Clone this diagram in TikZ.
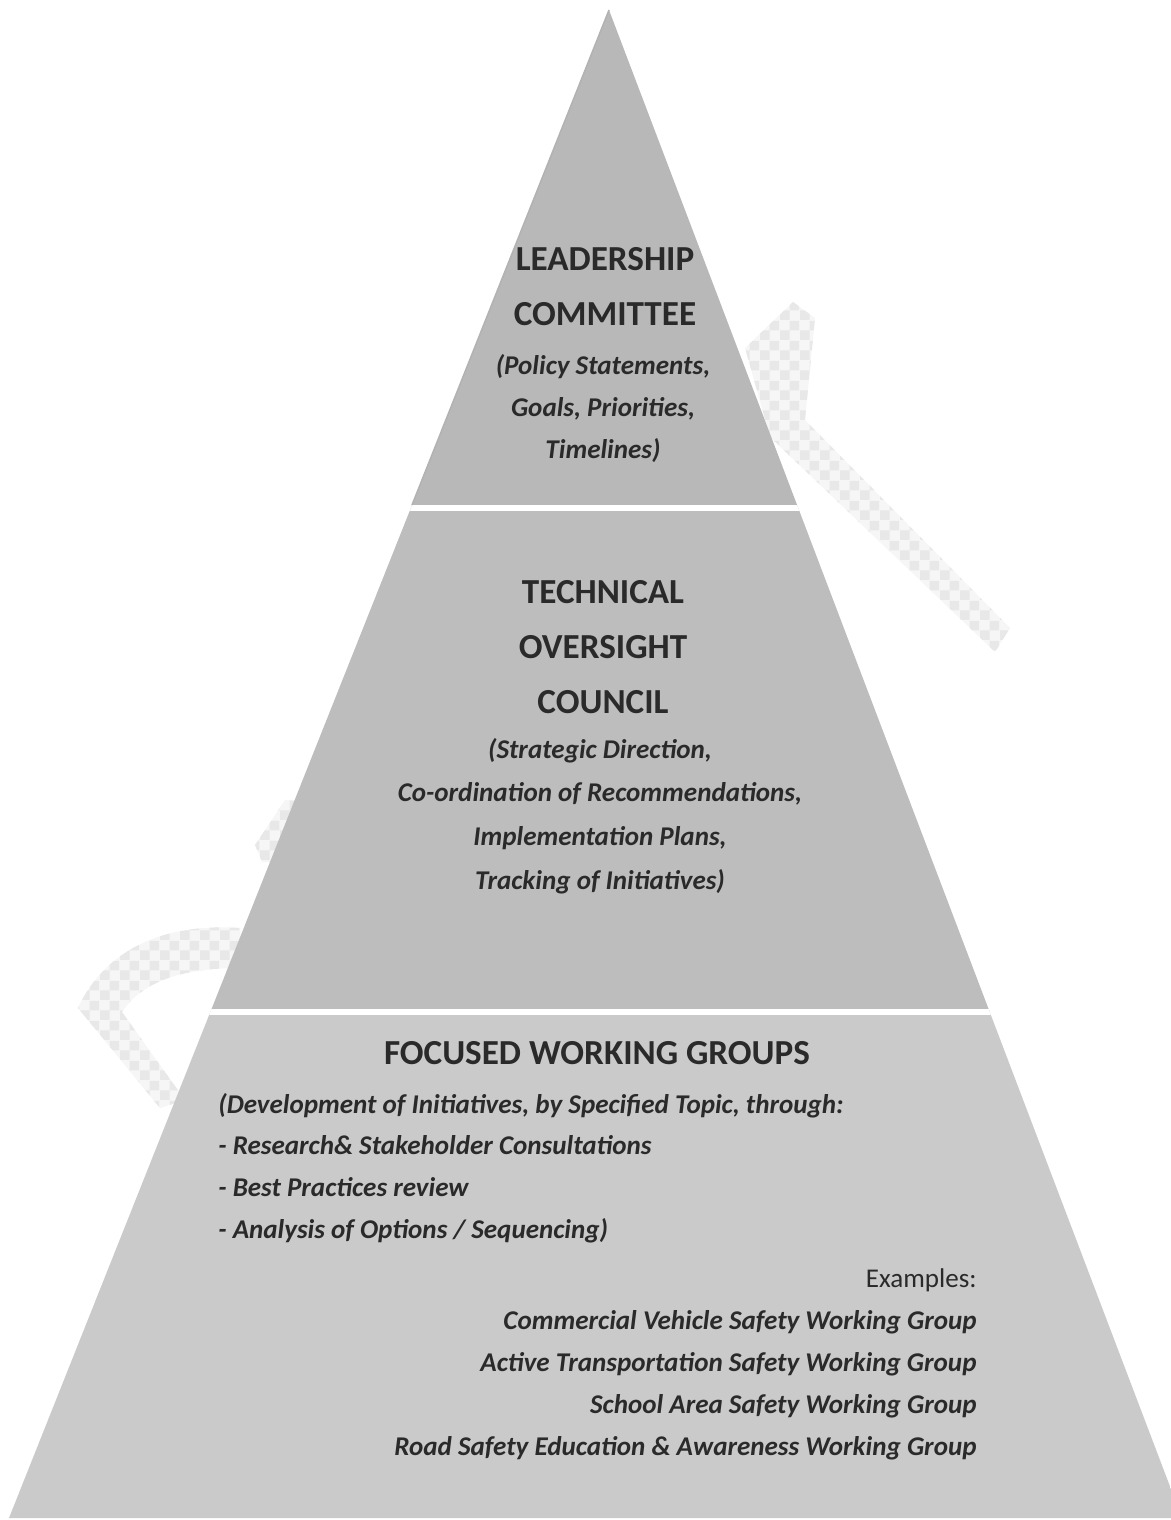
\documentclass[tikz,border=0pt]{standalone}
\usepackage{fontspec}
\setmainfont{Carlito}
\usetikzlibrary{patterns}
\definecolor{tierA}{HTML}{B8B8B8}
\definecolor{tierB}{HTML}{BDBDBD}
\definecolor{tierC}{HTML}{CACACA}
\definecolor{ink}{HTML}{2A2A2A}

\begin{document}
\begin{tikzpicture}[x=0.2mm,y=-0.2mm,
  head/.style={anchor=base,inner xsep=0pt,text=ink,font=\fontsize{20}{24}\selectfont\bfseries},
  note/.style={anchor=base,inner xsep=0pt,text=ink,font=\fontsize{15.4}{18}\selectfont\bfseries\itshape},
  band/.style={preaction={fill=gray!7},pattern=checkerboard,pattern color=gray!18}]
\useasboundingbox (0,0) rectangle (1170,1520);

% checkered bands behind the pyramid
\path[band] (745,348) -- (793,302) -- (815,318) -- (805,420) -- (1010,628) -- (995,652) -- (770,437) -- cycle;
\path[band] (255,845) -- (285,800) -- (305,800) -- (305,862) -- (262,862) -- cycle;
\path[band] (240,928) .. controls (150,922) and (100,960) .. (78,1008)
  -- (160,1108) -- (185,1100) -- (122,1012) .. controls (140,985) and (175,968) .. (240,968)
  -- cycle;

% pyramid with three tiers
\coordinate (apex) at (609,10);
\coordinate (bl) at (9,1518);
\coordinate (br) at (1182,1518);
\begin{scope}
  \clip (apex) -- (bl) -- (br) -- cycle;
  \fill[tierA] (0,0) rectangle (1200,508);
  \fill[tierB] (0,508) rectangle (1200,1012);
  \fill[tierC] (0,1012) rectangle (1200,1520);
  \draw[white,line width=1.2mm] (0,508) -- (1200,508) (0,1012) -- (1200,1012);
\end{scope}
\draw[gray!60,line width=0.3mm] (apex) -- (412,505);

% top tier
\foreach \t [count=\i from 0] in {LEADERSHIP,COMMITTEE}
  \node[head] (lead-\i) at (605,270+55*\i) {\t};
\foreach \t [count=\i from 0] in {{(Policy Statements,},{Goals, Priorities,},{Timelines)}}
  \node[note] (leadnote-\i) at (603,374+42*\i) {\t};

% middle tier
\foreach \t [count=\i from 0] in {TECHNICAL,OVERSIGHT,COUNCIL}
  \node[head] (tech-\i) at (603,603+55*\i) {\t};
\foreach \t [count=\i from 0] in {{(Strategic Direction,},{Co-ordination of Recommendations,},
    {Implementation Plans,},{Tracking of Initiatives)}}
  \node[note] (technote-\i) at (600,758+43.7*\i) {\t};

% bottom tier
\node[head] (focus) at (597,1064) {FOCUSED WORKING GROUPS};
\foreach \t [count=\i from 0] in {{(Development of Initiatives, by Specified Topic, through:},
    {- Research\& Stakeholder Consultations},{- Best Practices review},
    {- Analysis of Options / Sequencing)}}
  \node[note,anchor=base west] (task-\i) at (218,1113+41.7*\i) {\t};
\node[note,anchor=base east,font=\fontsize{15.4}{18}\selectfont] (examples) at (977,1287) {Examples:};
\foreach \t [count=\i from 1] in {Commercial Vehicle Safety Working Group,
    Active Transportation Safety Working Group,School Area Safety Working Group,
    Road Safety Education \& Awareness Working Group}
  \node[note,anchor=base east] (group-\i) at (977,1287+42*\i) {\t};
\end{tikzpicture}
\end{document}
